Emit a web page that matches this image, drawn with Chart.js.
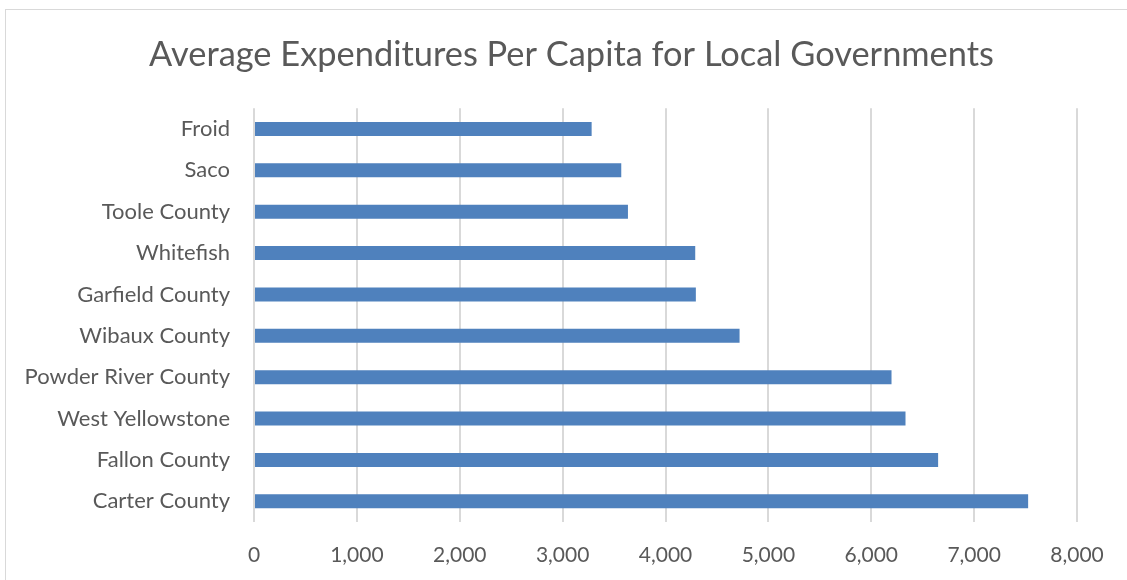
<!DOCTYPE html>
<html>
<head>
<meta charset="utf-8">
<script src="https://cdn.jsdelivr.net/npm/chart.js@4/dist/chart.umd.min.js"></script>
<style>
  html, body { margin: 0; padding: 0; background: #fff; overflow: hidden; }
  #wrap { position: relative; width: 1127px; height: 580px; overflow: hidden; }
  #frame { position: absolute; left: 5px; top: 9px; right: -2px; bottom: -2px; border: 1px solid #d9d9d9; }
  canvas { position: absolute; left: 0; top: 0; }
</style>
</head>
<body>
<div id="wrap">
  <div id="frame"></div>
  <!-- the original chart box runs a little past the right edge of the picture -->
  <canvas id="chart" width="1143" height="580"></canvas>
</div>
<script>
// chart data
const places = ['Froid', 'Saco', 'Toole County', 'Whitefish', 'Garfield County',
    'Wibaux County', 'Powder River County', 'West Yellowstone', 'Fallon County', 'Carter County'];
const perCapita = [3282, 3570, 3635, 4289, 4295, 4720, 6197, 6333, 6650, 7525];
const xMax = 8000;
const xStep = 1000;

const textGrey = '#595959';
const fontName = 'Lato, "Open Sans", sans-serif';

const ctx = document.getElementById('chart').getContext('2d');
new Chart(ctx, {
    type: 'bar',
    data: {
        labels: places,
        datasets: [{
            data: perCapita,
            backgroundColor: '#4f81bd',
            borderWidth: 0,
            categoryPercentage: 1,
            barPercentage: 0.34
        }]
    },
    options: {
        indexAxis: 'y',
        responsive: false,
        animation: false,
        layout: { padding: 0 },
        plugins: {
            legend: { display: false },
            tooltip: { enabled: false },
            title: {
                display: true,
                text: 'Average Expenditures Per Capita for Local Governments',
                color: textGrey,
                font: { family: fontName, size: 34.4, weight: '400' },
                padding: { top: 34, bottom: 33 }
            }
        },
        scales: {
            x: {
                min: 0,
                max: xMax,
                ticks: {
                    stepSize: xStep,
                    color: textGrey,
                    font: { family: fontName, size: 21 },
                    padding: 21,
                    callback: v => v.toLocaleString('en-US')
                },
                grid: { color: '#d9d9d9', lineWidth: 2, drawTicks: false },
                border: { display: false },
                afterFit: s => { s.height = 58; }
            },
            y: {
                ticks: {
                    color: textGrey,
                    font: { family: fontName, size: 22 },
                    padding: 24
                },
                grid: { display: false, drawTicks: false },
                border: { display: false },
                afterFit: s => { s.width = 254; }
            },
            // empty right-hand axis, only keeps the right margin
            yRight: {
                type: 'linear',
                position: 'right',
                display: true,
                ticks: { display: false },
                grid: { display: false, drawTicks: false },
                border: { display: false },
                afterFit: s => { s.width = 66; }
            }
        }
    }
});
</script>
</body>
</html>
